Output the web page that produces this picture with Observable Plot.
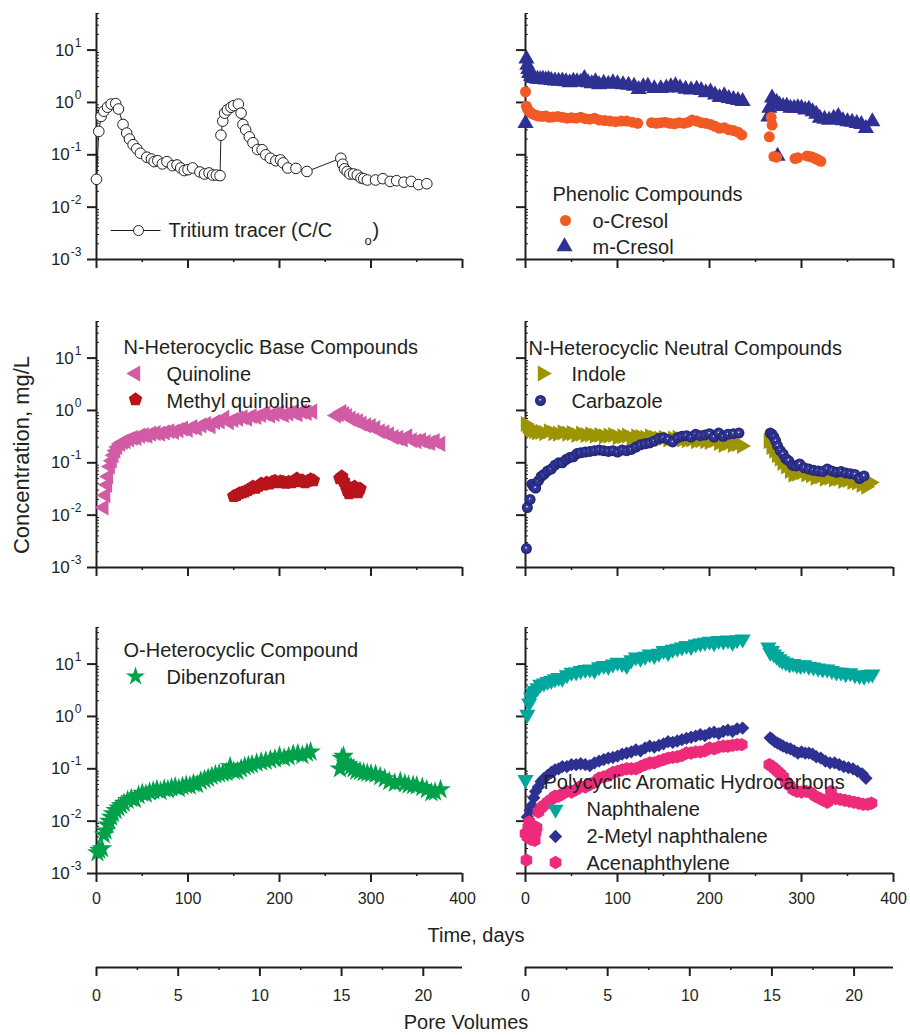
<!DOCTYPE html>
<html><head><meta charset="utf-8">
<script src="https://cdn.jsdelivr.net/npm/d3@7"></script>
<script src="https://cdn.jsdelivr.net/npm/@observablehq/plot@0.6"></script>
<style>
body{margin:0;background:#fff;}
#chart{position:relative;width:910px;height:1035px;font-family:"Liberation Sans",Arial,Helvetica,sans-serif;color:#231f20;overflow:hidden;}
.lbl{position:absolute;white-space:nowrap;transform:translate(-50%,-50%);}
</style></head>
<body><div id="chart">
<div class="lbl" style="left:22px;top:455px;font-size:22px;transform:translate(-50%,-50%) rotate(-90deg);">Concentration, mg/L</div>
<div class="lbl" style="left:476px;top:935px;font-size:20px;">Time, days</div>
<div class="lbl" style="left:466px;top:1022px;font-size:20px;">Pore Volumes</div>
</div>
<script>
// ---------- tick labels ----------
const timeTicks = [0, 100, 200, 300, 400];
const timeMinor = [50, 150, 250, 350];
const poreTicks = [0, 5, 10, 15, 20];
const poreMinor = [2.5, 7.5, 12.5, 17.5];
const yMajor = [1e-3, 1e-2, 1e-1, 1, 10];

// ---------- data: [day, concentration] ----------
const tritium = [[0,0.034],[2.5,0.28],[5,0.54],[8,0.68],[12,0.81],[16,0.93],[21,0.95],[24,0.75],[29,0.38],[33,0.26],[36,0.2],[40,0.156],[44,0.13],[48,0.107],[55,0.09],[60,0.083],[63,0.074],[67,0.077],[72,0.067],[77,0.074],[83,0.062],[88,0.064],[92,0.056],[96,0.05],[100,0.052],[105,0.056],[113,0.047],[118,0.043],[123,0.045],[127,0.041],[131,0.041],[135,0.04],[136,0.237],[138,0.44],[140,0.625],[143,0.72],[147,0.81],[150,0.87],[155,0.93],[158,0.625],[160,0.38],[163,0.3],[167,0.22],[171,0.17],[176,0.126],[181,0.125],[185,0.1],[190,0.086],[196,0.077],[201,0.08],[204,0.07],[209,0.056],[218,0.055],[230,0.048],[267,0.086],[269,0.066],[271,0.054],[274,0.048],[277,0.043],[281,0.043],[285,0.041],[289,0.036],[292,0.035],[296,0.033],[305,0.033],[313,0.035],[321,0.031],[328,0.032],[336,0.03],[344,0.031],[352,0.027],[361,0.028]];

const oCresol = [[0,1.6],[1,0.85],[2,0.75],[4,0.68],[6,0.63],[8,0.6],[11,0.57],[14,0.55],[18,0.54],[22,0.55],[26,0.52],[30,0.53],[35,0.54],[40,0.52],[45,0.5],[50,0.51],[55,0.5],[60,0.52],[65,0.49],[70,0.48],[75,0.5],[80,0.46],[86,0.45],[92,0.44],[98,0.43],[104,0.44],[110,0.44],[116,0.42],[122,0.40],[137,0.41],[142,0.40],[147,0.41],[152,0.42],[157,0.40],[162,0.39],[167,0.41],[172,0.40],[177,0.42],[181,0.46],[186,0.44],[191,0.41],[196,0.40],[201,0.38],[206,0.35],[211,0.32],[216,0.33],[221,0.30],[226,0.29],[231,0.27],[235,0.24],[265,0.22],[267,0.52],[268,0.37],[270,0.093],[273,0.09],[293,0.085],[296,0.088],[306,0.095],[309,0.093],[312,0.09],[315,0.085],[318,0.08],[321,0.075]];

const mCresol = [[0,0.40],[1,6.8],[2,5.2],[3,4.3],[4,3.6],[6,3.2],[8,3.0],[10,2.9],[13,2.8],[16,2.75],[19,2.8],[22,2.7],[25,2.75],[28,2.65],[32,2.6],[36,2.55],[40,2.6],[44,2.5],[48,2.4],[52,2.55],[56,2.5],[60,2.45],[64,2.9],[68,2.4],[72,2.3],[76,2.5],[80,2.2],[85,2.35],[90,2.25],[95,2.4],[100,2.3],[106,2.2],[112,2.15],[118,2.05],[123,1.78],[128,2.0],[133,2.06],[140,1.85],[147,1.85],[153,1.9],[158,2.0],[163,2.1],[168,1.9],[174,1.8],[180,1.75],[186,1.8],[191,1.7],[196,1.55],[201,1.6],[206,1.4],[211,1.25],[216,1.35],[221,1.2],[226,1.15],[231,1.1],[236,1.05],[264,0.53],[265,0.78],[268,1.22],[270,0.98],[273,1.0],[274,0.095],[276,0.9],[280,0.84],[284,0.85],[288,0.78],[292,0.78],[296,0.8],[300,0.78],[304,0.72],[308,0.75],[312,0.67],[316,0.6],[320,0.5],[325,0.48],[330,0.46],[335,0.5],[340,0.54],[345,0.45],[350,0.43],[355,0.42],[360,0.4],[365,0.38],[370,0.32],[377,0.43]];

const quinoline = [[8,0.014],[10,0.024],[12,0.038],[13,0.055],[15,0.085],[17,0.11],[19,0.14],[21,0.17],[23,0.2],[26,0.23],[29,0.25],[32,0.26],[36,0.28],[40,0.3],[44,0.3],[48,0.33],[52,0.34],[56,0.33],[60,0.36],[65,0.37],[70,0.36],[75,0.38],[80,0.4],[85,0.39],[90,0.42],[95,0.45],[100,0.43],[105,0.48],[110,0.46],[115,0.52],[120,0.55],[125,0.5],[130,0.6],[135,0.62],[140,0.72],[145,0.6],[150,0.66],[155,0.7],[160,0.74],[165,0.7],[170,0.78],[175,0.75],[180,0.82],[185,0.87],[190,0.8],[195,0.85],[200,0.9],[205,0.82],[210,0.88],[215,0.93],[220,0.85],[225,0.95],[230,0.9],[236,0.95],[262,0.8],[265,0.85],[268,0.93],[271,0.85],[274,0.78],[278,0.7],[282,0.65],[286,0.62],[290,0.56],[295,0.52],[300,0.5],[305,0.46],[310,0.4],[315,0.38],[320,0.35],[325,0.31],[330,0.3],[335,0.28],[340,0.32],[345,0.27],[350,0.26],[355,0.27],[360,0.25],[365,0.24],[370,0.26],[376,0.23]];

const methylQuinoline = [[150,0.023],[153,0.024],[156,0.026],[159,0.027],[162,0.028],[165,0.03],[168,0.032],[171,0.035],[174,0.033],[177,0.036],[180,0.04],[183,0.038],[186,0.042],[189,0.04],[192,0.043],[195,0.045],[198,0.042],[201,0.044],[204,0.043],[207,0.041],[210,0.043],[213,0.042],[216,0.045],[219,0.05],[222,0.044],[225,0.046],[228,0.042],[231,0.045],[234,0.048],[237,0.046],[266,0.05],[268,0.055],[270,0.045],[272,0.038],[274,0.03],[276,0.026],[278,0.032],[280,0.028],[282,0.035],[284,0.03],[286,0.027],[288,0.032]];

const indole = [[0,0.55],[2,0.5],[4,0.45],[6,0.42],[9,0.4],[12,0.38],[16,0.39],[20,0.37],[25,0.4],[30,0.37],[35,0.36],[40,0.38],[45,0.36],[50,0.37],[55,0.34],[60,0.36],[65,0.34],[70,0.35],[75,0.33],[80,0.34],[85,0.32],[90,0.33],[95,0.34],[100,0.31],[105,0.32],[110,0.33],[115,0.3],[120,0.32],[125,0.31],[130,0.3],[135,0.32],[140,0.3],[145,0.29],[150,0.3],[155,0.28],[160,0.29],[165,0.3],[170,0.28],[175,0.27],[180,0.28],[185,0.26],[190,0.27],[195,0.26],[200,0.25],[205,0.27],[210,0.24],[215,0.22],[220,0.24],[225,0.22],[230,0.23],[235,0.21],[264,0.26],[267,0.2],[270,0.17],[273,0.14],[276,0.12],[279,0.1],[283,0.085],[287,0.07],[291,0.06],[295,0.062],[300,0.066],[305,0.06],[310,0.058],[315,0.052],[320,0.055],[325,0.05],[330,0.052],[335,0.048],[340,0.05],[345,0.045],[350,0.047],[355,0.043],[360,0.042],[365,0.038],[370,0.035],[375,0.042]];

const carbazole = [[1,0.0023],[2,0.014],[5,0.02],[7,0.039],[9,0.035],[11,0.033],[14,0.045],[17,0.055],[20,0.06],[24,0.07],[28,0.076],[32,0.09],[36,0.1],[40,0.1],[44,0.115],[48,0.126],[52,0.13],[56,0.15],[60,0.155],[65,0.16],[70,0.165],[75,0.17],[80,0.175],[85,0.17],[90,0.165],[95,0.17],[100,0.16],[105,0.175],[110,0.17],[115,0.18],[120,0.2],[125,0.22],[130,0.23],[135,0.24],[140,0.26],[145,0.29],[150,0.3],[155,0.28],[160,0.25],[165,0.3],[170,0.32],[175,0.33],[180,0.31],[185,0.35],[190,0.33],[195,0.34],[200,0.36],[205,0.31],[210,0.37],[215,0.32],[220,0.35],[226,0.36],[232,0.37],[266,0.37],[268,0.35],[270,0.31],[272,0.26],[274,0.21],[277,0.17],[280,0.147],[283,0.12],[286,0.11],[290,0.09],[294,0.087],[298,0.095],[303,0.08],[308,0.076],[313,0.072],[318,0.07],[323,0.068],[328,0.076],[333,0.07],[338,0.066],[343,0.068],[348,0.064],[353,0.062],[358,0.06],[363,0.05],[368,0.056]];

const dibenzofuran = [[1,0.0025],[3,0.0028],[6,0.003],[8,0.0055],[10,0.0065],[12,0.0085],[14,0.01],[16,0.012],[18,0.014],[21,0.016],[24,0.018],[27,0.02],[30,0.022],[34,0.025],[38,0.027],[42,0.026],[46,0.031],[50,0.034],[54,0.033],[58,0.036],[62,0.038],[66,0.04],[70,0.037],[74,0.041],[78,0.04],[82,0.043],[86,0.045],[90,0.042],[94,0.046],[98,0.048],[102,0.047],[106,0.052],[110,0.05],[114,0.058],[118,0.062],[122,0.066],[126,0.072],[130,0.077],[134,0.08],[138,0.082],[142,0.085],[146,0.11],[150,0.09],[154,0.089],[158,0.1],[162,0.11],[166,0.115],[170,0.12],[175,0.129],[180,0.135],[185,0.14],[190,0.148],[195,0.155],[200,0.174],[205,0.16],[210,0.17],[215,0.19],[220,0.195],[225,0.18],[230,0.2],[234,0.21],[266,0.1],[268,0.16],[270,0.174],[272,0.13],[275,0.12],[278,0.11],[281,0.1],[284,0.09],[288,0.089],[292,0.085],[296,0.082],[300,0.08],[305,0.078],[310,0.071],[315,0.065],[320,0.057],[326,0.053],[332,0.057],[337,0.052],[341,0.049],[346,0.048],[350,0.047],[356,0.044],[361,0.04],[366,0.035],[370,0.036],[376,0.04]];

const naphthalene = [[0,0.062],[2,1.09],[4,1.8],[6,2.3],[8,2.8],[10,3.1],[13,3.5],[16,4.1],[20,4.3],[24,4.6],[28,4.8],[32,5.2],[36,5.5],[40,5.3],[45,6.2],[50,6.9],[55,7.0],[60,7.5],[65,7.8],[70,8.0],[75,7.6],[80,8.8],[85,9.3],[90,9.0],[95,10.0],[100,10.8],[105,10.2],[110,9.3],[115,12.0],[120,13.5],[125,12.8],[130,14.0],[135,15.5],[140,14.5],[145,16.0],[150,18.0],[155,16.5],[160,19.0],[165,20.0],[170,21.0],[175,22.4],[180,21.5],[185,24.0],[190,25.0],[195,26.0],[200,27.0],[205,25.5],[210,28.0],[215,27.5],[220,28.5],[225,26.0],[230,29.0],[236,30.0],[264,21],[266,16.8],[268,18],[270,15.5],[273,14],[276,12.5],[279,11.5],[283,10.8],[287,10],[291,10.2],[295,9.5],[299,9.3],[303,9.6],[308,9.0],[313,8.7],[318,8.4],[323,8.0],[328,8.0],[333,7.5],[338,7.0],[343,6.9],[348,6.5],[353,6.8],[358,6.2],[363,6.0],[368,5.8],[373,6.3],[377,6.4]];

const methylNaphthalene = [[2,0.012],[5,0.016],[7,0.02],[9,0.028],[11,0.037],[14,0.045],[17,0.057],[20,0.065],[24,0.075],[28,0.085],[32,0.095],[36,0.1],[40,0.11],[45,0.11],[50,0.12],[55,0.12],[60,0.125],[65,0.12],[70,0.115],[75,0.13],[80,0.14],[85,0.15],[90,0.16],[95,0.165],[100,0.175],[105,0.19],[110,0.2],[115,0.21],[120,0.23],[125,0.22],[130,0.25],[135,0.27],[140,0.26],[145,0.28],[150,0.3],[155,0.33],[160,0.32],[165,0.34],[170,0.36],[175,0.38],[180,0.4],[185,0.42],[190,0.45],[195,0.43],[200,0.48],[205,0.5],[210,0.47],[215,0.52],[220,0.55],[225,0.52],[230,0.58],[236,0.6],[266,0.39],[268,0.37],[271,0.33],[274,0.31],[277,0.29],[280,0.27],[284,0.25],[288,0.24],[292,0.22],[296,0.2],[300,0.21],[304,0.2],[308,0.2],[312,0.19],[316,0.17],[321,0.16],[326,0.14],[331,0.13],[336,0.13],[341,0.12],[346,0.11],[351,0.105],[356,0.1],[361,0.089],[366,0.08],[370,0.066]];

const acenaphthylene = [[0,0.0058],[1,0.0018],[2,0.005],[3,0.0075],[4,0.0097],[5,0.006],[6,0.0045],[7,0.0067],[8,0.0055],[9,0.008],[10,0.0043],[11,0.006],[12,0.0075],[14,0.015],[17,0.018],[20,0.02],[24,0.023],[28,0.026],[32,0.03],[36,0.03],[40,0.033],[45,0.037],[50,0.036],[55,0.04],[60,0.046],[65,0.045],[70,0.05],[75,0.056],[80,0.066],[85,0.07],[90,0.075],[95,0.085],[100,0.089],[105,0.095],[110,0.1],[115,0.1],[120,0.1],[125,0.11],[130,0.12],[135,0.129],[140,0.13],[145,0.14],[150,0.15],[155,0.16],[160,0.165],[165,0.17],[170,0.18],[175,0.2],[180,0.2],[185,0.21],[190,0.21],[195,0.22],[200,0.25],[205,0.24],[210,0.26],[215,0.27],[220,0.27],[225,0.28],[230,0.29],[235,0.29],[265,0.12],[268,0.11],[271,0.1],[274,0.089],[277,0.08],[280,0.07],[283,0.057],[287,0.048],[291,0.04],[295,0.037],[300,0.036],[305,0.037],[310,0.035],[315,0.03],[320,0.027],[324,0.025],[328,0.023],[332,0.037],[337,0.027],[342,0.026],[347,0.025],[352,0.024],[357,0.023],[362,0.022],[367,0.021],[372,0.021],[376,0.022]];

// ---------- styling ----------
const FONT = '"Liberation Sans", Arial, Helvetica, sans-serif';
const INK = "#231f20";
const C = {
  oCresol: "#f15a24", mCresol: "#2e3192", quinoline: "#d15ba4", methylQ: "#b8141b",
  indole: "#9c9400", carbazole: "url(#carbSphere)", dibenzo: "#00a14b",
  naph: "#00a79d", mnaph: "#2e3192", acen: "#ee2a7b"
};
const yMinor = [];
for (let k = -3; k <= 1; k++) for (let m = 2; m <= 9; m++) { const v = m * Math.pow(10, k); if (v <= 50) yMinor.push(v); }

function triSym(deg) {
  return { draw(ctx, size) {
    const s = Math.sqrt(4 * size / Math.sqrt(3)), R = s / Math.sqrt(3);
    for (let i = 0; i < 3; i++) {
      const a = (deg + i * 120) * Math.PI / 180;
      const x = R * Math.cos(a), y = R * Math.sin(a);
      i ? ctx.lineTo(x, y) : ctx.moveTo(x, y);
    }
    ctx.closePath();
  }};
}
const triUp = triSym(-90), triDown = triSym(90), triLeft = triSym(180), triRight = triSym(0);
const pentagon = { draw(ctx, size) {
  const R = Math.sqrt(size / (2.5 * Math.sin(2 * Math.PI / 5)));
  for (let i = 0; i < 5; i++) {
    const a = -Math.PI / 2 + i * 2 * Math.PI / 5;
    const x = R * Math.cos(a), y = R * Math.sin(a);
    i ? ctx.lineTo(x, y) : ctx.moveTo(x, y);
  }
  ctx.closePath();
}};
const lineSym = { draw(ctx) { ctx.moveTo(-25, 0); ctx.lineTo(25, 0); } };

const X = d => d[0], Y = d => d[1];
function series(data, o) { return Plot.dot(data, {x: X, y: Y, stroke: "none", ...o}); }

function legendMarks(ox, oy, items) {
  return items.map(it => it.text !== undefined
    ? Plot.text([it.text], {frameAnchor: "top-left", dx: it.x - ox, dy: it.y - oy, text: d => d,
        textAnchor: "start", lineAnchor: "middle", fontSize: it.size || 20, fill: INK, fontFamily: FONT})
    : Plot.dot([0], {frameAnchor: "top-left", dx: it.x - ox, dy: it.y - oy, symbol: it.symbol, r: it.r || 5.5,
        fill: it.fill || "none", stroke: it.stroke || "none", strokeWidth: it.sw || 1}));
}

const chart = document.getElementById("chart");
const NS = "http://www.w3.org/2000/svg";

function panel({left, top, mL, plotW, yText, xText, marks, legend}) {
  const width = mL + plotW + 8;
  const svg = Plot.plot({
    width, height: 300,
    marginLeft: mL, marginRight: width - mL - plotW, marginTop: 13, marginBottom: 41,
    x: {domain: [0, 400]},
    y: {type: "log", domain: [1e-3, 50]},
    style: {position: "absolute", left: left + "px", top: top + "px", overflow: "visible",
            background: "transparent", fontFamily: FONT, color: INK},
    marks: [
      Plot.axisY(yMinor, {tickSize: -3, fill: "none", stroke: INK, strokeWidth: 1, label: null}),
      Plot.axisY(yMajor, {tickSize: 9, tickPadding: 6, fontSize: 17, fill: yText ? INK : "none", stroke: INK,
        strokeWidth: 2, label: null, tickFormat: d => "10^" + Math.round(Math.log10(d))}),
      Plot.axisX(timeMinor, {tickSize: 3, fill: "none", stroke: INK, strokeWidth: 1.5, label: null}),
      Plot.axisX(timeTicks, {tickSize: 9, tickPadding: 10, fontSize: 16, fill: xText ? INK : "none", stroke: INK,
        strokeWidth: 2, label: null}),
      Plot.ruleX([0], {stroke: INK, strokeWidth: 2}),
      Plot.ruleY([1e-3], {stroke: INK, strokeWidth: 2}),
      ...marks,
      ...legend
    ]
  });
  svg.querySelectorAll('[aria-label="y-axis tick label"] text').forEach(t => {
    const m = t.textContent.match(/^10\^(.+)$/);
    if (!m) return;
    t.textContent = "10";
    const ts = document.createElementNS(NS, "tspan");
    ts.setAttribute("dy", "-9"); ts.setAttribute("dx", "1"); ts.setAttribute("font-size", "12");
    ts.textContent = m[1];
    t.appendChild(ts);
  });
  const defs = document.createElementNS(NS, "defs");
  defs.innerHTML = '<radialGradient id="carbSphere" cx="50%" cy="50%" r="50%" fx="46%" fy="42%">' +
    '<stop offset="0" stop-color="#ffffff"/><stop offset="0.07" stop-color="#e6e8ff"/>' +
    '<stop offset="0.2" stop-color="#3a3fa2"/><stop offset="0.7" stop-color="#2b2f8c"/><stop offset="1" stop-color="#1e2068"/></radialGradient>';
  svg.insertBefore(defs, svg.firstChild);
  chart.appendChild(svg);
}

const LEFT = {left: 0, mL: 96, plotW: 366};
const RIGHT = {left: 460, mL: 65, plotW: 368};

panel({...LEFT, top: 0, yText: true, xText: false,
  marks: [
    Plot.line(tritium, {x: X, y: Y, stroke: INK, strokeWidth: 1}),
    Plot.dot(tritium, {x: X, y: Y, r: 5.3, fill: "white", stroke: INK, strokeWidth: 1})
  ],
  legend: legendMarks(96, 13, [
    {x: 135, y: 230, symbol: lineSym, stroke: INK, fill: "none"},
    {x: 138, y: 230, symbol: "circle", r: 5, fill: "white", stroke: INK},
    {x: 168, y: 230, text: "Tritium tracer (C/C"},
    {x: 364, y: 240, text: "o", size: 13},
    {x: 372, y: 230, text: ")"}
  ])
});

panel({...RIGHT, top: 0, yText: false, xText: false,
  marks: [
    series(mCresol, {symbol: triUp, r: 6, fill: C.mCresol}),
    series(oCresol, {symbol: "circle", r: 5.5, fill: C.oCresol})
  ],
  legend: legendMarks(525, 13, [
    {x: 552, y: 194, text: "Phenolic Compounds"},
    {x: 565, y: 220, symbol: "circle", r: 5.5, fill: C.oCresol},
    {x: 592, y: 221, text: "o-Cresol"},
    {x: 564, y: 246, symbol: triUp, r: 6, fill: C.mCresol},
    {x: 592, y: 247, text: "m-Cresol"}
  ])
});

panel({...LEFT, top: 308, yText: true, xText: false,
  marks: [
    series(quinoline, {symbol: triLeft, r: 6, fill: C.quinoline}),
    series(methylQuinoline, {symbol: pentagon, r: 6.2, fill: C.methylQ})
  ],
  legend: legendMarks(96, 321, [
    {x: 123, y: 347, text: "N-Heterocyclic Base Compounds"},
    {x: 135, y: 373, symbol: triLeft, r: 6, fill: C.quinoline},
    {x: 166, y: 374, text: "Quinoline"},
    {x: 135, y: 399, symbol: pentagon, r: 6.2, fill: C.methylQ},
    {x: 166, y: 401, text: "Methyl quinoline"}
  ])
});

panel({...RIGHT, top: 308, yText: false, xText: false,
  marks: [
    series(indole, {symbol: triRight, r: 6, fill: C.indole}),
    series(carbazole, {symbol: "circle", r: 5.5, fill: C.carbazole})
  ],
  legend: legendMarks(525, 321, [
    {x: 528, y: 348, text: "N-Heterocyclic Neutral Compounds"},
    {x: 542, y: 373, symbol: triRight, r: 6, fill: C.indole},
    {x: 571, y: 374, text: "Indole"},
    {x: 540, y: 400, symbol: "circle", r: 5.5, fill: C.carbazole},
    {x: 571, y: 401, text: "Carbazole"}
  ])
});

panel({...LEFT, top: 614, yText: true, xText: true,
  marks: [
    series(dibenzofuran, {symbol: "star", r: 6.5, fill: C.dibenzo})
  ],
  legend: legendMarks(96, 627, [
    {x: 123, y: 650, text: "O-Heterocyclic Compound"},
    {x: 135, y: 676, symbol: "star", r: 6, fill: C.dibenzo},
    {x: 166, y: 677, text: "Dibenzofuran"}
  ])
});

panel({...RIGHT, top: 614, yText: false, xText: true,
  marks: [
    series(naphthalene, {symbol: triDown, r: 6, fill: C.naph}),
    series(methylNaphthalene, {symbol: "diamond2", r: 6, fill: C.mnaph}),
    series(acenaphthylene, {symbol: "hexagon", r: 5.8, fill: C.acen})
  ],
  legend: legendMarks(525, 627, [
    {x: 543, y: 782, text: "Polycyclic Aromatic Hydrocarbons"},
    {x: 555, y: 809, symbol: triDown, r: 6, fill: C.naph},
    {x: 586, y: 809, text: "Naphthalene"},
    {x: 555, y: 836, symbol: "diamond2", r: 6, fill: C.mnaph},
    {x: 586, y: 836, text: "2-Metyl naphthalene"},
    {x: 555, y: 862, symbol: "hexagon", r: 5.8, fill: C.acen},
    {x: 586, y: 863, text: "Acenaphthylene"}
  ])
});

function poreAxis({left, mL, plotW}) {
  const width = mL + plotW + 8;
  const svg = Plot.plot({
    width, height: 46, marginLeft: mL, marginRight: width - mL - plotW, marginTop: 5, marginBottom: 40,
    x: {domain: [0, 22.4]},
    y: {domain: [0, 1], axis: null},
    style: {position: "absolute", left: left + "px", top: "961px", overflow: "visible",
            background: "transparent", fontFamily: FONT, color: INK},
    marks: [
      Plot.axisX(poreMinor, {tickSize: 3, fill: "none", stroke: INK, strokeWidth: 1.5, label: null}),
      Plot.axisX(poreTicks, {tickSize: 9, tickPadding: 13, fontSize: 16, fill: INK, stroke: INK, strokeWidth: 2, label: null}),
      Plot.ruleY([0], {stroke: INK, strokeWidth: 2})
    ]
  });
  chart.appendChild(svg);
}
poreAxis(LEFT);
poreAxis(RIGHT);
</script>
</body></html>
